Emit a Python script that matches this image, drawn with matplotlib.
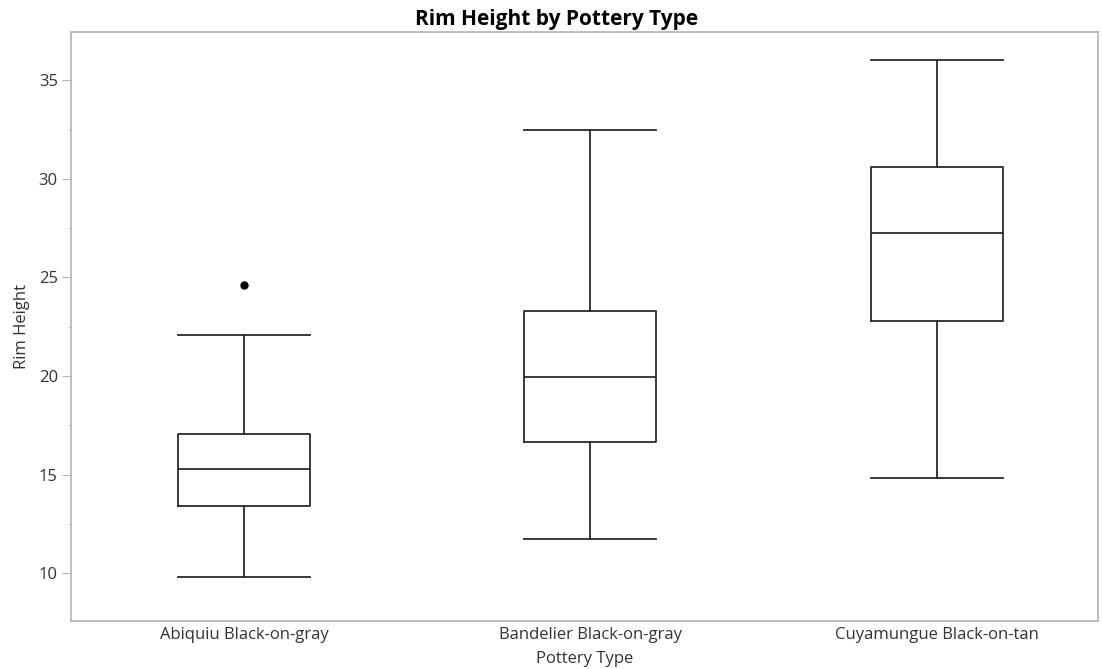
import matplotlib
matplotlib.use("Agg")
import matplotlib.pyplot as plt
from matplotlib.ticker import MultipleLocator

categories = ["Abiquiu Black-on-gray", "Bandelier Black-on-gray", "Cuyamungue Black-on-tan"]
whisker_low = [9.8, 11.73, 14.8]
q1 = [13.4, 16.66, 22.8]
median = [15.3, 19.97, 27.25]
q3 = [17.05, 23.28, 30.6]
whisker_high = [22.1, 32.5, 36.05]
outliers = [[24.6], [], []]

plt.rcParams['font.family'] = ['Open Sans', 'DejaVu Sans']

fig = plt.figure(figsize=(11.02, 6.69), dpi=100)
ax = fig.add_axes([71/1102, 1-621/669, (1098-71)/1102, (621-32)/669])

stats = []
for i, c in enumerate(categories):
    stats.append(dict(label=c, whislo=whisker_low[i], q1=q1[i], med=median[i],
                      q3=q3[i], whishi=whisker_high[i], fliers=outliers[i]))

lc = '#2a2a2a'
bw = 0.381
ax.bxp(stats, positions=range(len(categories)), widths=bw, showfliers=True,
       boxprops=dict(color=lc, linewidth=1.3),
       medianprops=dict(color=lc, linewidth=1.3),
       whiskerprops=dict(color=lc, linewidth=1.3),
       capprops=dict(color=lc, linewidth=1.3),
       capwidths=bw,
       flierprops=dict(marker='o', markerfacecolor='black', markeredgecolor='black',
                       markersize=5))

ax.set_xlim(-0.499, 2.465)
ax.set_ylim(7.57, 37.45)
ax.yaxis.set_major_locator(MultipleLocator(5))
ax.yaxis.set_minor_locator(MultipleLocator(2.5))
ax.set_xticks(range(len(categories)))
ax.set_xticklabels(categories)
for s in ax.spines.values():
    s.set_color('#b4b4b4')
    s.set_linewidth(1.2)
ax.tick_params(axis='both', which='both', colors='#b4b4b4', labelcolor='#333333', labelsize=12)
ax.tick_params(axis='y', which='major', length=6.5, pad=3)
ax.tick_params(axis='y', which='minor', length=2.5)
ax.tick_params(axis='x', which='both', length=0, pad=4.5)
ax.set_xlabel("Pottery Type", fontsize=12, color='#333333', labelpad=5.5)
ax.set_ylabel("Rim Height", fontsize=12, color='#333333', labelpad=6)
ax.set_title("Rim Height by Pottery Type", fontsize=15, fontweight='bold', color='black',
             pad=5, x=(557-71)/1027)

fig.savefig("out.png", dpi=100)
